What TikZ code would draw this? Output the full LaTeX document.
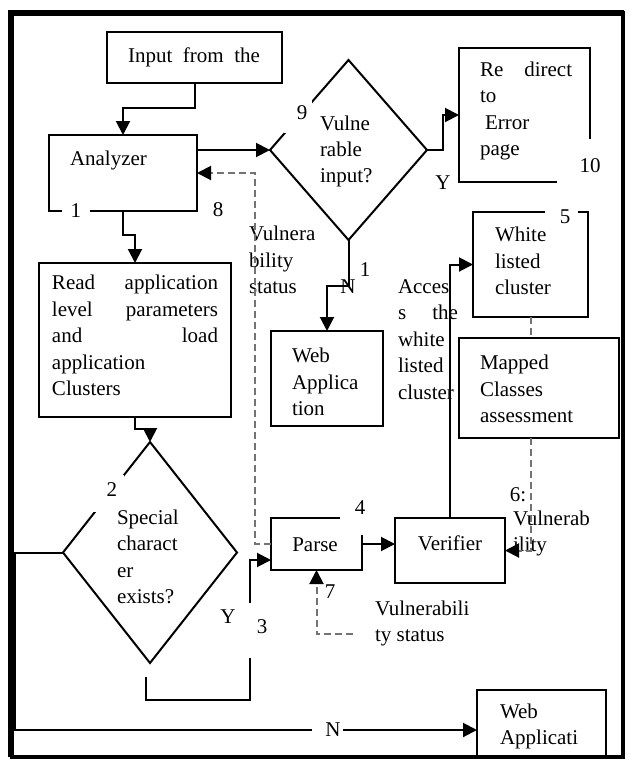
\documentclass[tikz,border=0pt]{standalone}
\usepackage{fontspec}
\setmainfont{Liberation Serif}
\usetikzlibrary{arrows.meta,shapes.geometric,fit,calc}
\begin{document}
\begin{tikzpicture}[x=0.5pt,y=-0.5pt,
  every node/.style={font=\fontsize{10.5}{13.2}\selectfont, inner sep=0pt, outer sep=0pt},
  box/.style={draw, line width=1pt, inner sep=0pt, outer sep=0pt},
  dec/.style={draw, shape=diamond, line width=1pt, inner sep=0pt, outer sep=0pt},
  txt/.style={align=left, anchor=west},
  flow/.style={line width=1pt, -{Triangle[length=7pt,width=7pt]}},
  plain/.style={line width=1pt},
  dashline/.style={draw=black!55, line width=1pt, dash pattern=on 3.5pt off 2pt},
  dashflow/.style={dashline, -{Triangle[length=7pt,width=7pt,color=black]}},
]
\useasboundingbox (0,0) rectangle (628,762);
\fill[white] (0,0) rectangle (628,762);

% ---- boxes ----
\node[box, fit={(107,32) (282,83)}] (inp) {};
\node (t-inp) at (194,57) {Input\hspace{.5em}from\hspace{.5em}the};

\node[box, fit={(49,135) (197,211)}] (ana) {};
\node[txt] (t-ana) at (70,160) {Analyzer};
\fill[white] (62,206) rectangle (90,216);
\node (n1a) at (76,211) {1};

\node[box, fit={(39,263) (231,417)}] (read) {};
\node[txt, text width=83pt] (t-read) at (52,335.5)
  {Read\hfill application\\level\hfill parameters\\and\hfill load\\application\\Clusters};

\node[box, fit={(271,331) (383,426)}] (webA) {};
\node[txt] (t-webA) at (292,382) {Web\\Applica\\tion};

\node[box, fit={(459,48) (590,182)}] (err) {};
\fill[white] (557,139) rectangle (595,187);
\node (n10) at (590,166) {10};
\node[txt] (t-err) at (480,111) {Re\hspace{1em}direct\\to\\\hspace*{2.5pt}Error\\page};

\node[box, fit={(473,212) (588,317)}] (white) {};
\fill[white] (545,206) rectangle (578,218);
\node (n5) at (565,217) {5};
\node[txt] (t-white) at (495,261) {White\\listed\\cluster};

\node[box, fit={(459,338) (619,438)}] (map) {};
\node[txt] (t-map) at (480,389) {Mapped\\Classes\\assessment};

\node[box, fit={(271,518) (362,570)}] (parse) {};
\fill[white] (340,513) rectangle (367,535);
\node (n4) at (360,508) {4};
\node (t-parse) at (315,545) {Parse};

\node[box, fit={(395,518) (505,583)}] (ver) {};
\node (t-ver) at (450,543) {Verifier};

\node[box, fit={(477,690) (606,757)}] (webB) {};
\node[txt] (t-webB) at (500,726.5) {Web\\Applicati};

% ---- decisions ----
\node[dec, minimum width=78.5pt, minimum height=90pt] (vul) at (348.5,150) {};
\fill[white] (284,97) rectangle (312,133);
\node (n9) at (302,113) {9};
\node[txt] (t-vul) at (320,151.5) {Vulne\\rable\\input?};

\node[dec, minimum width=87pt, minimum height=110.5pt] (spec) at (150,552.5) {};
\fill[white] (92,475) rectangle (124,512);
\node (n2) at (112,490) {2};
\node[txt] (t-spec) at (117,557) {Special\\charact\\er\\exists?};

% ---- free labels ----
\node (n8) at (218,210) {8};
\node[txt] (t-vs1) at (249,260) {Vulnera\\bility\\status};
\node (y1) at (443,183) {Y};
\node (n1b) at (365,270) {1};
\node[txt, text width=30pt] (t-acc) at (398,339.5) {Acces\\s\hfill the\\white\\listed\\cluster};
\node (y2) at (228,617) {Y};
\node (n3) at (262,627) {3};
\node (n6) at (518,495) {6:};
\node[txt] (t-vs2) at (513,533.5) {Vulnerab\\ility};
\node (n7) at (330,592) {7};
\node[txt] (t-vs3) at (375,623.5) {Vulnerabili\\ty status};
\node (nN2) at (333,730) {N};

% ---- connectors ----
\draw[flow] (inp.south) -- ++(0,25) -| (ana.north);
\draw[flow] (ana.east |- vul.west) -- (vul.west);
\draw[dashflow] (parse.west) -- ++(-16,0) |- (ana.east);
\draw[flow] (vul.east) -- ++(16,0) |- (err.west);
\draw[flow] (vul.south) -- ++(0,46) -| (webA.north);
\node (nN1) at (348,287) {N};
\draw[flow] (ana.south) -- ++(0,24) -| (read.north);
\draw[flow] (read.south) -- ++(0,12) -| (spec.north);

\coordinate (ys) at (146,677);
\coordinate (yc) at (250,700);
\coordinate (yg) at (250,658);
\coordinate (yr) at (250,603);
\draw[plain] (ys) |- (yc) -- (yg);
\draw[flow] (yr) |- ($(parse.west)+(0,16)$);

\coordinate (nc) at (15,730);
\coordinate (ne) at (312,730);
\coordinate (nr) at (343,730);
\draw[plain] (spec.west) -| (nc) -- (ne);
\draw[flow] (nr) -- (nr -| webB.west);

\draw[flow] (parse.east) -- (parse.east -| ver.west);
\draw[flow] (ver.north) |- (white.west);
\draw[dashline] (white.south) -- (white.south |- map.north);
\draw[dashflow] (white.south |- map.south) |- (ver.east);
\coordinate (vs) at (353,634);
\draw[dashflow] (vs) -| (parse.south);

% ---- frame ----
\draw[line width=1.6pt] (12,13) rectangle (623,757);
\draw[line width=3pt] (11,757) -- (11,13) -- (624,13);
\end{tikzpicture}
\end{document}
